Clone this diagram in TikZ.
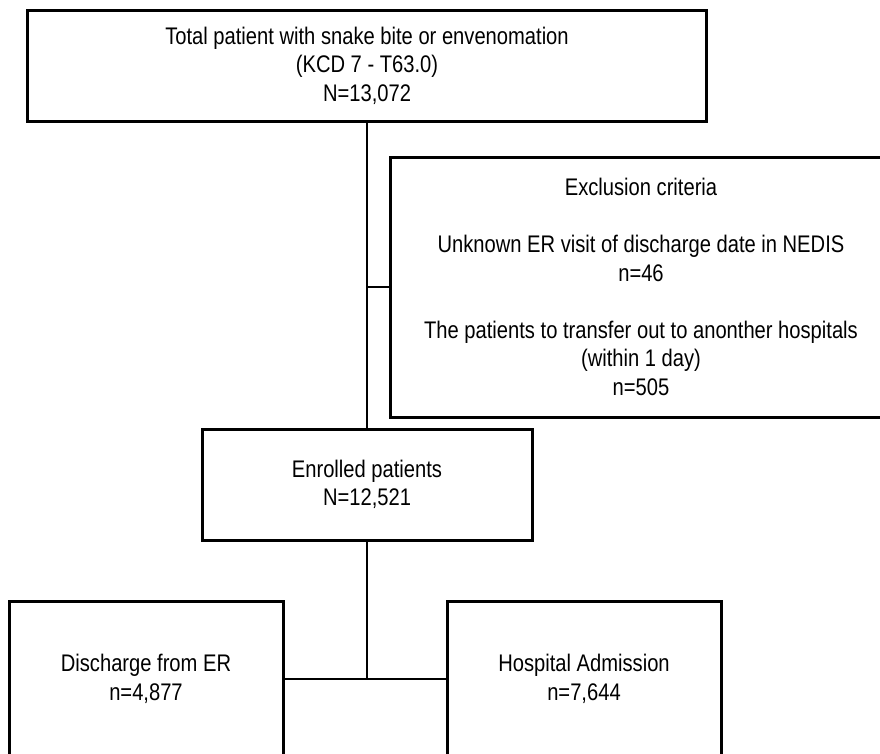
\documentclass[tikz,border=0pt]{standalone}
\usepackage{fontspec}
\setmainfont{Liberation Sans}[FakeStretch=0.84]
\usetikzlibrary{positioning}

\begin{document}
\begin{tikzpicture}[
    every node/.style={font=\fontsize{24}{28.5}\selectfont},
    box/.style={draw, line width=3pt, align=center, inner sep=0pt, outer sep=0pt},
    conn/.style={line width=2.8pt}
]
\useasboundingbox (0,0) rectangle (880pt,-753pt);
\clip (0,0) rectangle (880pt,-753pt);

\node[box, minimum width=679pt, minimum height=111pt] (total) at (367pt,-65.5pt)
    {Total patient with snake bite or envenomation\\(KCD 7 - T63.0)\\N=13,072};
\node[box, minimum width=502pt, minimum height=260pt, below right=36pt and 23pt of total.south] (excl)
    {Exclusion criteria\\[28.5pt]Unknown ER visit of discharge date in NEDIS\\n=46\\[28.5pt]The patients to transfer out to anonther hospitals\\(within 1 day)\\n=505};
\node[box, minimum width=330pt, minimum height=111pt, below=308pt of total] (enrolled)
    {Enrolled patients\\N=12,521};
\node[box, minimum width=274pt, minimum height=156pt, below left=61pt and 84pt of enrolled.south] (er)
    {Discharge from ER\\n=4,877};
\node[box, minimum width=274pt, minimum height=156pt, below right=61pt and 80pt of enrolled.south] (adm)
    {Hospital Admission\\n=7,644};

\draw[conn] (total) -- (enrolled);
\draw[conn] (excl.west -| total.south) -- (excl);
\draw[conn] (enrolled) -- (enrolled |- er.east);
\draw[conn] (er.east) -- (adm.west);
\end{tikzpicture}
\end{document}
